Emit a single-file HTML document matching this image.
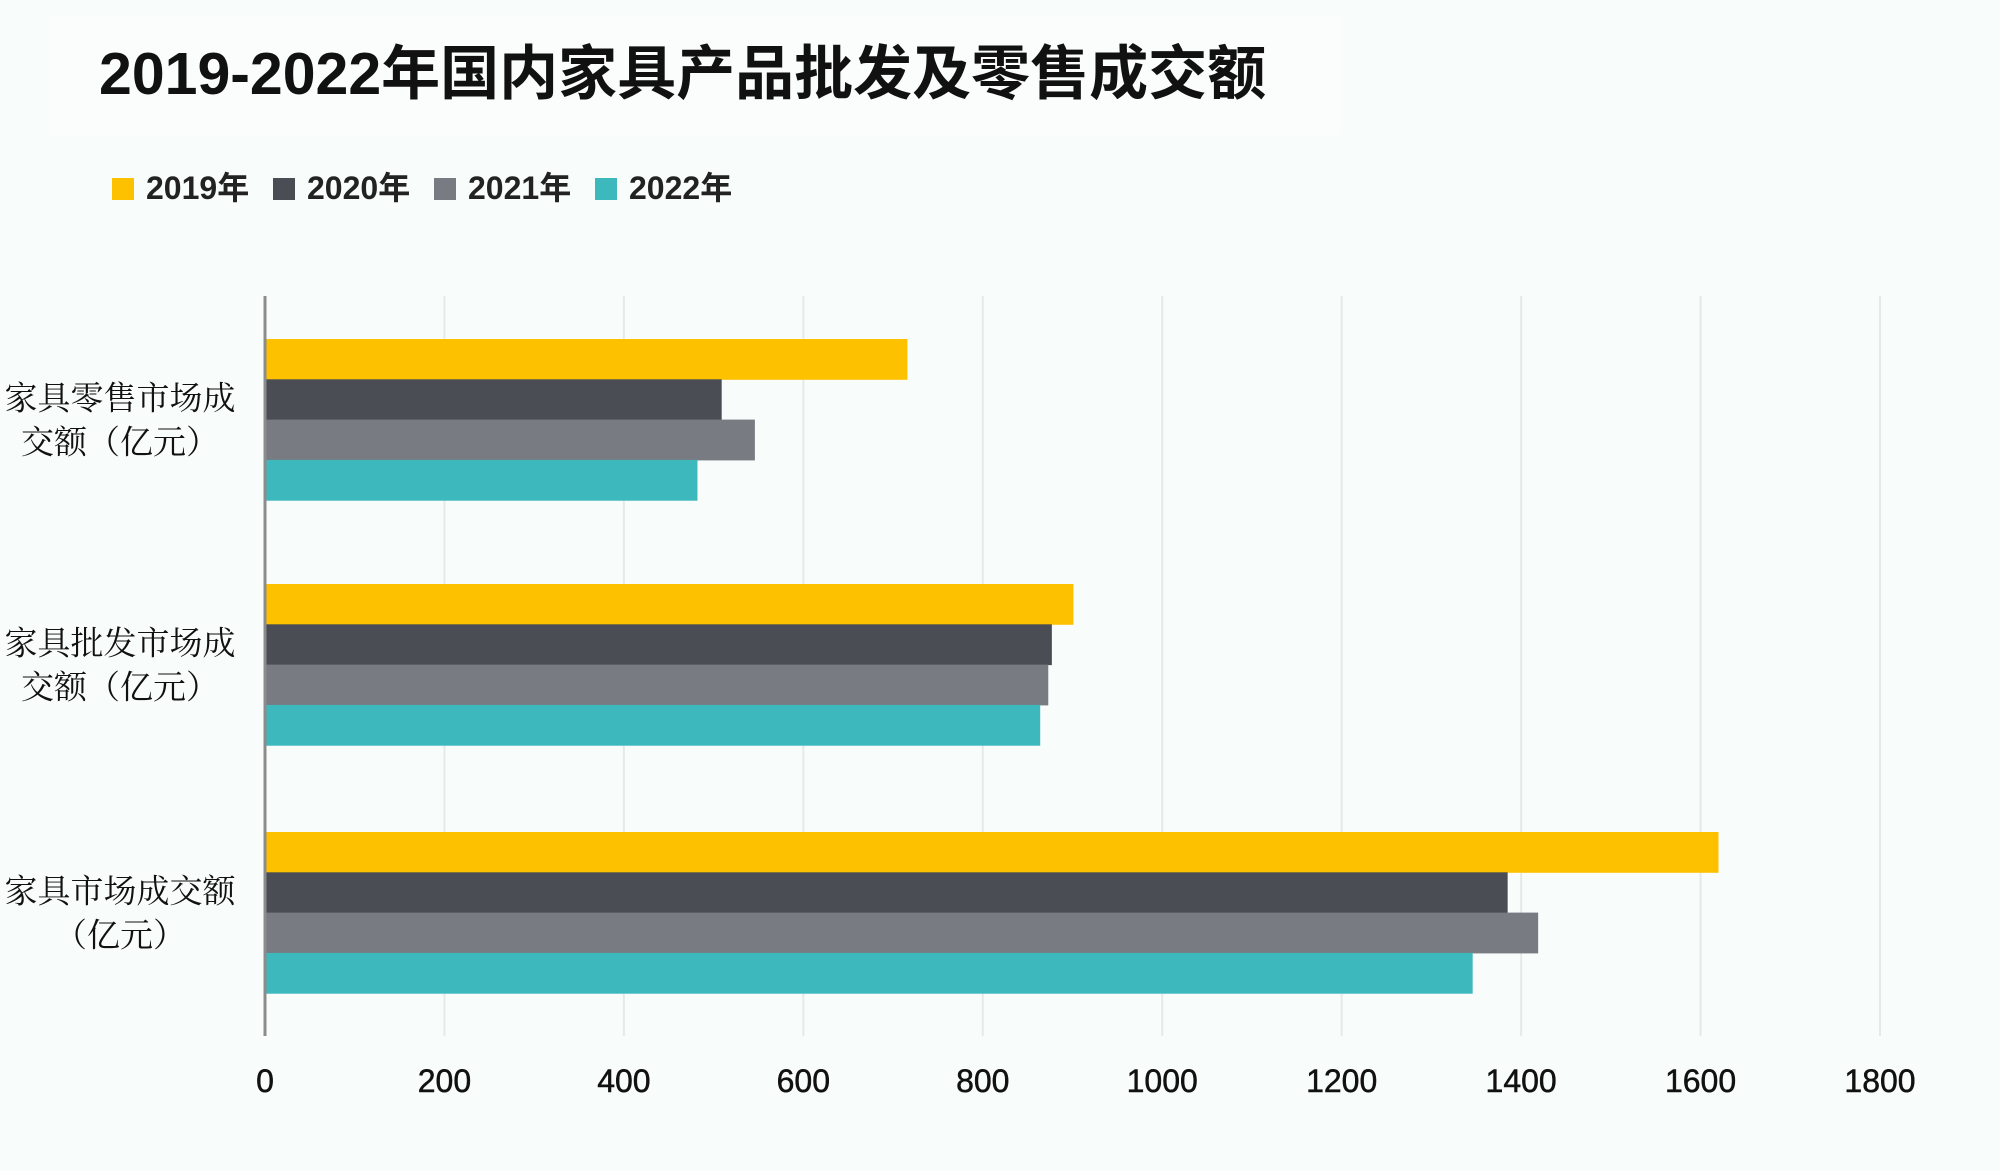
<!DOCTYPE html>
<html><head><meta charset="utf-8"><style>
html,body{margin:0;padding:0;background:#f8fcfb;}
#wrap{position:relative;width:2000px;height:1171px;background:#f8fcfb;overflow:hidden;font-family:"Liberation Sans","Noto Sans CJK SC",sans-serif;}
#title-box{position:absolute;left:50px;top:15px;width:1290px;height:120px;background:#fbfdfd;}
#title{position:absolute;left:99px;top:26px;font-size:59px;font-weight:bold;color:#111;white-space:nowrap;}
.leg{position:absolute;top:163px;font-size:32px;font-weight:bold;color:#222;white-space:nowrap;}
.leg span.sw{display:inline-block;width:22px;height:22px;margin-right:12px;vertical-align:-1px;}
</style></head><body>
<div id="wrap">
<div id="title-box"></div>
<div id="title">2019-2022年国内家具产品批发及零售成交额</div>
<div class="leg" style="left:112px"><span class="sw" style="background:#fec100"></span>2019年</div>
<div class="leg" style="left:273px"><span class="sw" style="background:#4a4d53"></span>2020年</div>
<div class="leg" style="left:434px"><span class="sw" style="background:#797b83"></span>2021年</div>
<div class="leg" style="left:595px"><span class="sw" style="background:#3db8bd"></span>2022年</div>
<svg id="plot" width="2000" height="1171" style="position:absolute;left:0;top:0"></svg>
</div>
<script>
const categories = [["家具零售市场成","交额（亿元）"],["家具批发市场成","交额（亿元）"],["家具市场成交额","（亿元）"]];
const s2019 = [716, 901, 1620];
const s2020 = [509, 877, 1385];
const s2021 = [546, 873, 1419];
const s2022 = [482, 864, 1346];
const ticks = [0,200,400,600,800,1000,1200,1400,1600,1800];
const seriesNames = ["2019","2020","2021","2022"];

const series=[s2019,s2020,s2021,s2022];
const colors=["#fec100","#4a4d53","#797b83","#3db8bd"];
const X0=265, X1=1880, VMAX=1800;
const xs=v=>X0+(X1-X0)*v/VMAX;
const groupTop=[339,584,832], barH=40.3;
const svg=document.getElementById('plot');
const NS="http://www.w3.org/2000/svg";
function mk(t,a){const e=document.createElementNS(NS,t);for(const k in a)e.setAttribute(k,a[k]);svg.appendChild(e);return e;}
ticks.forEach((t,i)=>{
  if(i>0){const g=mk('line',{x1:xs(t),x2:xs(t),y1:296,y2:1036,stroke:'#e6e9e9','stroke-width':2});
  
  }
  const tx=mk('text',{x:xs(t),y:1092,'text-anchor':'middle','font-size':32,'font-family':'Liberation Sans, sans-serif',fill:'#111',stroke:'#111','stroke-width':0.5});
  tx.textContent=t;
  
  
});
categories.forEach((c,ci)=>{
  series.forEach((s,si)=>{
    const r=mk('rect',{x:xs(0),y:groupTop[ci]+si*barH,width:xs(s[ci])-xs(0),height:barH+0.5,fill:colors[si]});
    
    
  });
  const cy=groupTop[ci]+2*barH;
  c.forEach((line,li)=>{
    const t=mk('text',{x:120,y:cy-10+li*44,'text-anchor':'middle','font-size':33,'font-family':'Noto Serif CJK SC, serif',fill:'#111'});
    t.textContent=line;
    
    
  });
});
const ax=mk('line',{x1:265,x2:265,y1:296,y2:1036,stroke:'#8c8c8c','stroke-width':3});


</script>
</body></html>
